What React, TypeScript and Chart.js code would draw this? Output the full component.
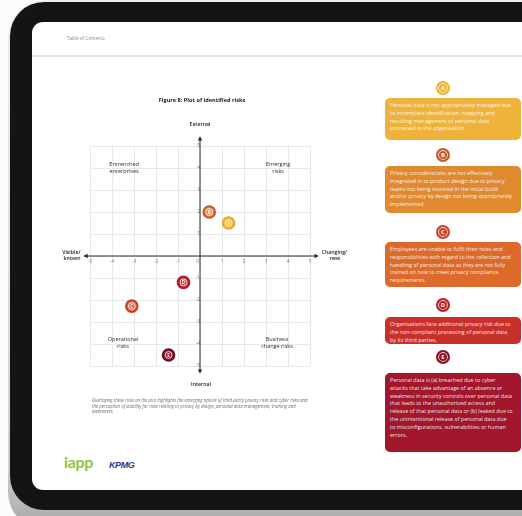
import React, { useEffect, useRef } from 'react';
import { Chart, registerables } from 'chart.js';

Chart.register(...registerables);

const FONT = '"Open Sans", "Noto Sans", Arial, sans-serif';

// ---- chart data ----
const riskLetters = ['A', 'B', 'C', 'D', 'E'];
const riskX = [1.3, 0.42, -3.1, -0.75, -1.43];
const riskY = [1.5, 2.0, -2.28, -1.2, -4.5];
const riskFill = ['#F4BE3E', '#E58A3C', '#E4654B', '#C83038', '#8C1A2E'];
const riskRing = ['#EBA52C', '#C65A2A', '#C8412E', '#A81E2A', '#6A0F20'];
const axisTicks = [-5, -4, -3, -2, -1, 0, 1, 2, 3, 4, 5];
const quadrantLabels = [
  ['Entrenched', 'enterprises'],
  ['Emerging', 'risks'],
  ['Operational', 'risks'],
  ['Business', 'change risks'],
];
const quadrantX = [-3.45, 3.55, -3.5, 3.5];
const quadrantY = [4.0, 4.0, -3.95, -3.95];
const chartTitle = 'Figure 8: Plot of identified risks';
const axisTop = 'External';
const axisBottom = 'Internal';
const axisLeft = ['Visible/', 'known'];
const axisRight = ['Changing/', 'new'];

// ---- side panel data ----
const panelLetters = ['A', 'B', 'C', 'D', 'E'];
const panelColors = ['#EFB23A', '#E0892F', '#DC6A2B', '#C8302B', '#A2172B'];
const panelCircleColors = ['#F0B030', '#C65A28', '#C8442A', '#B8202A', '#8E1226'];
const panelTexts = [
  'Personal data is not appropriately managed due to incomplete identification, mapping and resulting management of personal data processed in the organisation.',
  'Privacy considerations are not effectively integrated in to product design due to privacy teams not being involved in the initial build and/or privacy by design not being appropriately implemented.',
  'Employees are unable to fulfil their roles and responsibilities with regard to the collection and handling of personal data as they are not fully trained on how to meet privacy compliance requirements.',
  'Organisations face additional privacy risk due to the non-compliant processing of personal data by its third parties.',
  'Personal data is (a) breached due to cyber attacks that take advantage of an absence or weakness in security controls over personal data that leads to the unauthorised access and release of that personal data or (b) leaked due to the unintentional release of personal data due to misconfigurations, vulnerabilities or human errors.',
];
const panelCircleTop = [88, 155, 232, 305, 357];
const panelBoxTop = [98, 166, 242, 317, 373];
const panelBoxHeight = [42, 47, 45, 27, 79];

const footnote =
  'Overlaying these risks on the plot highlights the emerging nature of third-party privacy risks and cyber risks and the perception of stability for risks relating to privacy by design, personal data management, training and awareness.';

const overlayPlugin = {
  id: 'riskOverlay',
  beforeDatasetsDraw(chart: any) {
    const { ctx, scales } = chart;
    const xs = scales.x;
    const ys = scales.y;
    const x0 = xs.getPixelForValue(0);
    const y0 = ys.getPixelForValue(0);
    const xl = xs.getPixelForValue(-5.25);
    const xr = xs.getPixelForValue(5.35);
    const yt = ys.getPixelForValue(5.4);
    const yb = ys.getPixelForValue(-5.3);
    ctx.save();
    ctx.strokeStyle = '#2a2a2a';
    ctx.fillStyle = '#2a2a2a';
    ctx.lineWidth = 1;
    ctx.beginPath();
    ctx.moveTo(xl, y0);
    ctx.lineTo(xr, y0);
    ctx.moveTo(x0, yt);
    ctx.lineTo(x0, yb);
    ctx.stroke();
    const a = 3.2;
    const tri = (pts: number[][]) => {
      ctx.beginPath();
      ctx.moveTo(pts[0][0], pts[0][1]);
      ctx.lineTo(pts[1][0], pts[1][1]);
      ctx.lineTo(pts[2][0], pts[2][1]);
      ctx.closePath();
      ctx.fill();
    };
    tri([[xl - 1, y0], [xl + a, y0 - a * 0.7], [xl + a, y0 + a * 0.7]]);
    tri([[xr + 1, y0], [xr - a, y0 - a * 0.7], [xr - a, y0 + a * 0.7]]);
    tri([[x0, yt - 1], [x0 - a * 0.7, yt + a], [x0 + a * 0.7, yt + a]]);
    tri([[x0, yb + 1], [x0 - a * 0.7, yb - a], [x0 + a * 0.7, yb - a]]);

    // title and axis captions
    ctx.fillStyle = '#222';
    ctx.textAlign = 'center';
    ctx.textBaseline = 'middle';
    ctx.font = `bold 5.6px ${FONT}`;
    ctx.fillText(chartTitle, x0 + 2, ys.getPixelForValue(5) - 46);
    ctx.font = `600 5.2px ${FONT}`;
    ctx.fillText(axisTop, x0, ys.getPixelForValue(5) - 21);
    ctx.fillText(axisBottom, x0 + 1, ys.getPixelForValue(-5) + 19);
    ctx.textAlign = 'right';
    ctx.fillText(axisLeft[0], xl - 4, y0 - 3.5);
    ctx.fillText(axisLeft[1], xl - 4, y0 + 3);
    ctx.textAlign = 'left';
    ctx.fillText(axisRight[0], xr + 4, y0 - 3.5);
    ctx.fillText(axisRight[1], xr + 12, y0 + 3);

    // quadrant labels
    ctx.textAlign = 'center';
    ctx.font = `500 5.5px ${FONT}`;
    ctx.fillStyle = '#2e2e2e';
    quadrantLabels.forEach((lines, i) => {
      const px = xs.getPixelForValue(quadrantX[i]);
      const py = ys.getPixelForValue(quadrantY[i]);
      ctx.fillText(lines[0], px, py - 3.3);
      ctx.fillText(lines[1], px, py + 3.3);
    });
    ctx.restore();
  },
  afterDatasetsDraw(chart: any) {
    const { ctx } = chart;
    const meta = chart.getDatasetMeta(0);
    ctx.save();
    meta.data.forEach((pt: any, i: number) => {
      ctx.beginPath();
      ctx.strokeStyle = 'rgba(255,255,255,0.9)';
      ctx.lineWidth = 0.9;
      ctx.arc(pt.x, pt.y, 3.4, 0, Math.PI * 2);
      ctx.stroke();
      ctx.fillStyle = '#fff';
      ctx.font = `bold 4.6px ${FONT}`;
      ctx.textAlign = 'center';
      ctx.textBaseline = 'middle';
      ctx.fillText(riskLetters[i], pt.x, pt.y + 0.3);
    });
    ctx.restore();
  },
};

function RiskChart() {
  const ref = useRef<HTMLCanvasElement | null>(null);
  useEffect(() => {
    if (!ref.current) return;
    const chart = new Chart(ref.current, {
      type: 'scatter',
      data: {
        datasets: [
          {
            label: 'Risks',
            data: riskX.map((x, i) => ({ x, y: riskY[i] })),
            backgroundColor: riskFill,
            borderColor: riskRing,
            borderWidth: 2,
            pointRadius: 5.8,
            pointHoverRadius: 5.8,
          },
        ],
      },
      options: {
        animation: false,
        responsive: false,
        maintainAspectRatio: false,
        events: [],
        layout: { padding: { left: 50, right: 50, top: 61, bottom: 59 } },
        plugins: { legend: { display: false }, tooltip: { enabled: false } },
        scales: {
          x: {
            type: 'linear',
            min: -5,
            max: 5,
            position: { y: 0 } as any,
            afterBuildTicks: (s: any) => {
              s.ticks = axisTicks.map((v) => ({ value: v }));
            },
            ticks: {
              autoSkip: false,
              maxRotation: 0,
              padding: 3,
              color: '#777',
              font: { size: 4.8, family: FONT },
              callback: (v: any) => (Number(v) === 0 ? '0    ' : String(v)),
            },
            grid: { color: '#e2e2e2', lineWidth: 0.8, drawTicks: false },
            border: { display: false },
          },
          y: {
            type: 'linear',
            min: -5,
            max: 5,
            position: { x: 0 } as any,
            afterBuildTicks: (s: any) => {
              s.ticks = axisTicks.map((v) => ({ value: v }));
            },
            ticks: {
              autoSkip: false,
              padding: 4,
              color: '#777',
              font: { size: 4.8, family: FONT },
              callback: (v: any) => (Number(v) === 0 ? '' : String(v)),
            },
            grid: { color: '#e2e2e2', lineWidth: 0.8, drawTicks: false },
            border: { display: false },
          },
        },
      },
      plugins: [overlayPlugin],
    });
    return () => chart.destroy();
  }, []);
  return (
    <canvas
      ref={ref}
      width={320}
      height={340}
      style={{ position: 'absolute', left: 40, top: 85, width: 320, height: 340 }}
    />
  );
}

export default function App() {
  return (
    <div
      style={{
        position: 'fixed',
        left: 0,
        top: 0,
        width: 522,
        height: 516,
        overflow: 'hidden',
        background: '#fbfbfb',
        fontFamily: FONT,
      }}
    >
      {/* tablet rim */}
      <div
        style={{
          position: 'absolute',
          left: 8,
          top: 0,
          width: 660,
          height: 530,
          borderRadius: 38,
          background: 'linear-gradient(180deg, #eeeeee 0%, #d0d0d0 88%, #a4a4a4 100%)',
        }}
      />
      {/* tablet body */}
      <div
        style={{
          position: 'absolute',
          left: 10,
          top: 2,
          width: 660,
          height: 508,
          borderRadius: 34,
          background: '#141414',
        }}
      />
      {/* screen */}
      <div
        style={{
          position: 'absolute',
          left: 32,
          top: 22,
          width: 640,
          height: 468,
          borderRadius: 11,
          background: '#ffffff',
        }}
      />
      {/* header */}
      <div style={{ position: 'absolute', left: 67, top: 35, fontSize: 4.6, color: '#8a8a8a' }}>
        Table of Contents
      </div>
      <div
        style={{ position: 'absolute', left: 32, top: 55, width: 500, height: 1.5, background: '#e4e4e4' }}
      />

      <RiskChart />

      {/* footnote */}
      <div
        style={{
          position: 'absolute',
          left: 92,
          top: 398,
          width: 218,
          fontSize: 4.4,
          lineHeight: '5.6px',
          color: '#6e6e6e',
          fontStyle: 'italic',
        }}
      >
        {footnote}
      </div>

      {/* logos */}
      <div
        style={{
          position: 'absolute',
          left: 64,
          top: 452,
          fontSize: 16,
          fontWeight: 700,
          color: '#8DC63F',
          fontFamily: 'Lato, "Open Sans", sans-serif',
          letterSpacing: -0.3,
        }}
      >
        iapp
      </div>
      <div
        style={{
          position: 'absolute',
          left: 109,
          top: 460,
          fontSize: 9,
          fontWeight: 800,
          fontStyle: 'italic',
          color: '#1F3A8A',
          fontFamily: 'Arial, "Liberation Sans", sans-serif',
          letterSpacing: -0.4,
        }}
      >
        KPMG
      </div>

      {/* side panels */}
      {panelLetters.map((letter, i) => (
        <React.Fragment key={letter}>
          <div
            style={{
              position: 'absolute',
              left: 436,
              top: panelCircleTop[i] - 7,
              width: 10,
              height: 10,
              borderRadius: '50%',
              border: `2px solid ${panelCircleColors[i]}`,
              background: panelCircleColors[i],
              boxShadow: 'inset 0 0 0 1px rgba(255,255,255,0.85)',
              color: '#fff',
              fontSize: 6,
              fontWeight: 700,
              lineHeight: '10px',
              textAlign: 'center',
            }}
          >
            {letter}
          </div>
          <div
            style={{
              position: 'absolute',
              left: 385,
              top: panelBoxTop[i],
              width: 136,
              height: panelBoxHeight[i],
              boxSizing: 'border-box',
              borderRadius: 5,
              background: panelColors[i],
              padding: '4px 8px 3px 5px',
              color: 'rgba(255,255,255,0.92)',
              fontSize: 5.4,
              lineHeight: '7.8px',
              overflow: 'hidden',
            }}
          >
            {panelTexts[i]}
          </div>
        </React.Fragment>
      ))}
    </div>
  );
}
